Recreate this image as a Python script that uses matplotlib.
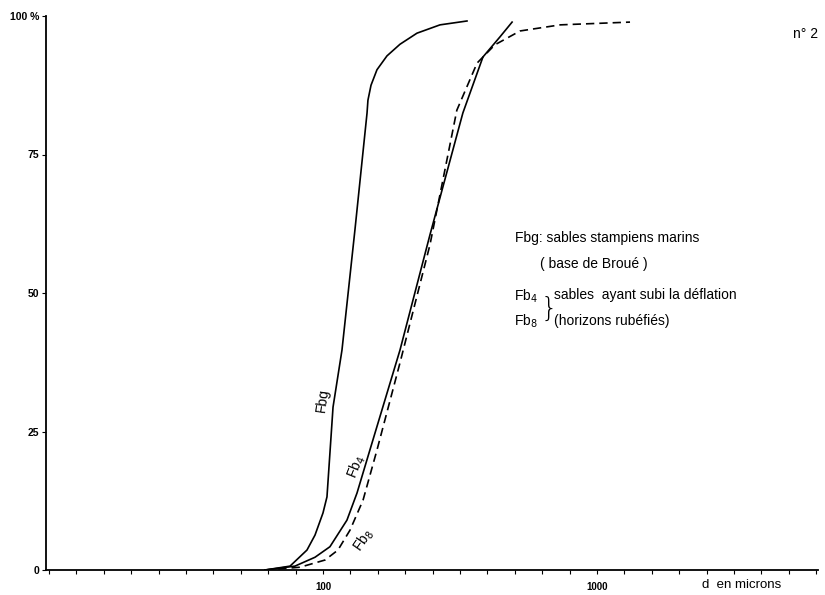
import numpy as np
import matplotlib
matplotlib.use("Agg")
import matplotlib.pyplot as plt
from matplotlib.ticker import FixedLocator, NullFormatter

plt.rcParams['font.family'] = ['Liberation Sans', 'DejaVu Sans']

# grain size (microns) and cumulative percentage
fbg_d = [61.4, 75.8, 87.4, 93.5, 100, 103.4, 108.8, 117.3, 130.8, 144.8, 145.9, 149.7, 157.4,
         171.2, 191.0, 220.3, 267.3, 335.4]
fbg_p = [0, 0.7, 3.6, 6.3, 10.3, 13.2, 29.4, 39.7, 61.4, 82.5, 84.8, 87.5, 90.3,
         92.8, 94.9, 96.9, 98.4, 99.1]

fb4_d = [61.4, 79, 93.5, 106, 122.3, 133.1, 148.4, 171.2, 191, 245.7, 324, 383.5, 442, 490]
fb4_p = [0, 0.7, 2.3, 4.2, 9.0, 13.9, 21.7, 31.9, 39.7, 60.5, 82.5, 92.6, 96.2, 98.9]

fb8_d = [61.4, 82.4, 101.7, 113.4, 125.5, 140, 157.5, 191, 245.7, 308, 365, 424, 524, 734, 1320]
fb8_p = [0, 0.5, 1.8, 3.6, 7.2, 12.6, 21.7, 37.4, 58.7, 83.0, 91.5, 94.8, 97.3, 98.4, 98.9]

y_ticks = [0, 25, 50, 75, 100]
y_labels = ['0', '25', '50', '75', '100 %']
x_major = [100, 1000]
x_labels = ['100', '1000']

W, H = 825, 595
fig = plt.figure(figsize=(W / 100, H / 100), dpi=100)
ax = fig.add_axes([46 / W, 25 / H, (818 - 46) / W, (570 - 16) / H])

ax.plot(fbg_d, fbg_p, color='black', lw=1.2)
ax.plot(fb4_d, fb4_p, color='black', lw=1.2)
ax.plot(fb8_d, fb8_p, color='black', lw=1.2, linestyle=(0, (5, 3)))

ax.set_xscale('log')
ax.set_xlim(9.75, 6408)
ax.set_ylim(0, 100)

for s in ['top', 'right']:
    ax.spines[s].set_visible(False)
for s in ['left', 'bottom']:
    ax.spines[s].set_linewidth(1.3)

ax.xaxis.set_major_locator(FixedLocator(x_major))
ax.set_xticklabels(x_labels)
ax.xaxis.set_minor_locator(FixedLocator(10 ** np.arange(1, 3.81, 0.1)))
ax.xaxis.set_minor_formatter(NullFormatter())
ax.tick_params(axis='x', which='both', direction='out', length=3, width=0.8, labelsize=7, pad=6)

ax.set_yticks(y_ticks)
ax.set_yticklabels(y_labels)
ax.tick_params(axis='y', direction='out', length=3, width=0.8, labelsize=7.5, pad=2)
for t in ax.get_xticklabels() + ax.get_yticklabels():
    t.set_fontweight('bold')

def px(x, y):
    return x / W, 1 - y / H

fig.text(*px(742, 585), 'd  en microns', fontsize=9.5, ha='center', va='center')
fig.text(*px(806, 34), 'n° 2', fontsize=10, ha='center', va='center')

fig.text(*px(323, 400), 'Fbg', fontsize=10, rotation=82, ha='center', va='center')
fig.text(*px(356, 467), 'Fb$_4$', fontsize=10, rotation=68, ha='center', va='center')
fig.text(*px(364, 540), 'Fb$_8$', fontsize=10, rotation=55, ha='center', va='center')

fig.text(*px(515, 238), 'Fbg: sables stampiens marins', fontsize=10, ha='left', va='center')
fig.text(*px(540, 264), '( base de Broué )', fontsize=10, ha='left', va='center')
fig.text(*px(514, 296), 'Fb$_4$', fontsize=10, ha='left', va='center')
fig.text(*px(514, 321), 'Fb$_8$', fontsize=10, ha='left', va='center')
fig.text(*px(541, 308), '}', fontsize=19, ha='left', va='center', fontweight='light',
         family='DejaVu Sans')
fig.text(*px(554, 295), 'sables  ayant subi la déflation', fontsize=10, ha='left', va='center')
fig.text(*px(554, 321), '(horizons rubéfiés)', fontsize=10, ha='left', va='center')

fig.savefig('out.png', dpi=100)
